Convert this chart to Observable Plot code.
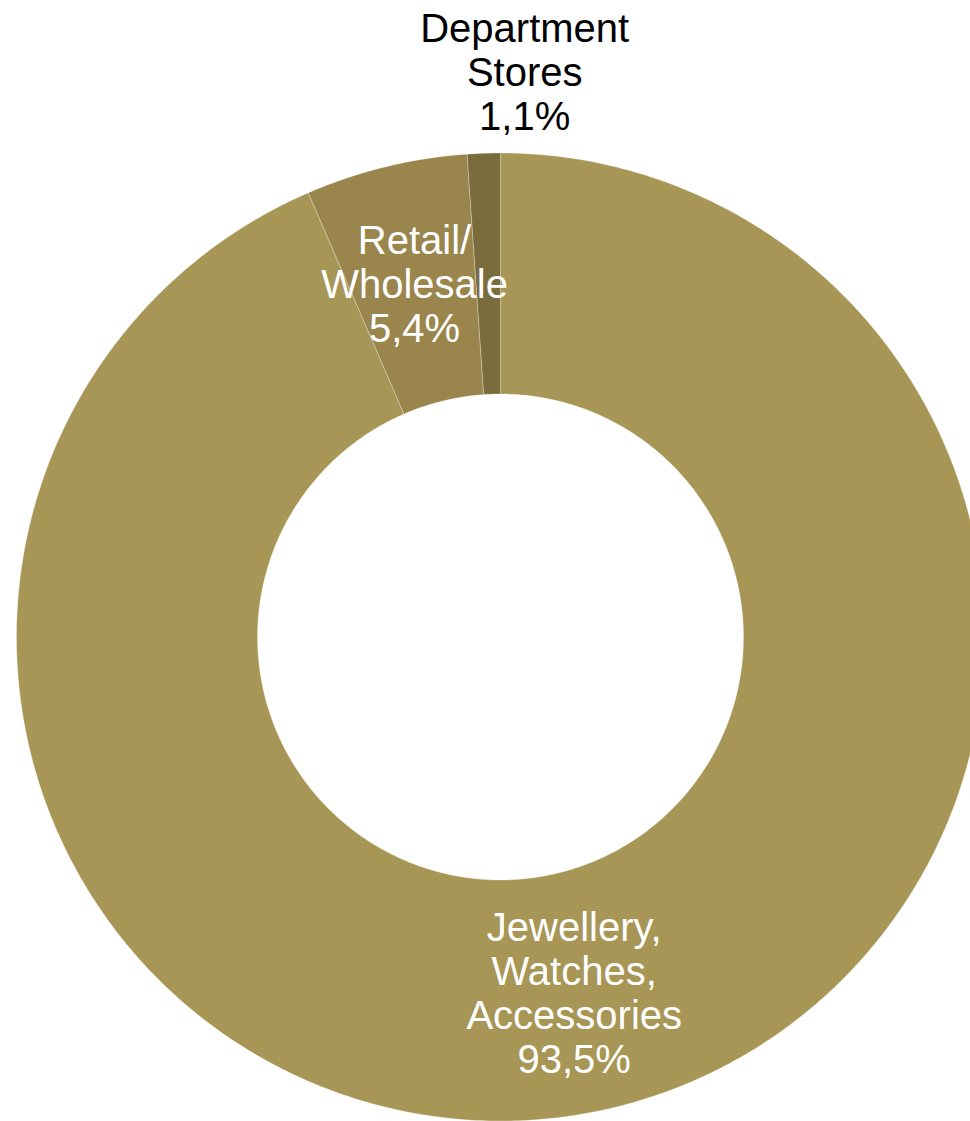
<!DOCTYPE html>
<html>
<head>
<meta charset="utf-8">
<script src="https://cdn.jsdelivr.net/npm/d3@7"></script>
<script src="https://cdn.jsdelivr.net/npm/@observablehq/plot@0.6"></script>
<style>
  html, body { margin: 0; padding: 0; background: #fff; }
  #chart { width: 970px; height: 1121px; }
</style>
</head>
<body>
<div id="chart"></div>
<script>
// ---- data ----
const categories = ["Jewellery, Watches, Accessories", "Retail/Wholesale", "Department Stores"];
const labelLines = [["Jewellery,", "Watches,", "Accessories"], ["Retail/", "Wholesale"], ["Department", "Stores"]];
const shares = [93.5, 5.4, 1.1];
const valueLabels = ["93,5%", "5,4%", "1,1%"];
const colors = ["#A89656", "#9A854D", "#7B6C3D"];

// ---- geometry (unit radius) ----
const W = 970, H = 1121;
const outerPx = 484, cx = 500, cy = 636.5;
const inner = 243 / 484;
const total = d3.sum(shares);

let acc = 0;
const slices = categories.map((name, i) => {
  const a0 = acc / total * 2 * Math.PI;
  acc += shares[i];
  const a1 = acc / total * 2 * Math.PI;
  return {name, a0, a1, i};
});

const pts = [];
for (const s of slices) {
  const n = Math.max(4, Math.ceil((s.a1 - s.a0) / (2 * Math.PI) * 720));
  const ring = [];
  for (let k = 0; k <= n; k++) {
    const a = s.a0 + (s.a1 - s.a0) * k / n;
    ring.push({name: s.name, x: Math.sin(a), y: Math.cos(a)});
  }
  for (let k = n; k >= 0; k--) {
    const a = s.a0 + (s.a1 - s.a0) * k / n;
    ring.push({name: s.name, x: inner * Math.sin(a), y: inner * Math.cos(a)});
  }
  ring.push({...ring[0]});
  pts.push(...ring);
}

const labels = slices.map(s => {
  const mid = (s.a0 + s.a1) / 2;
  const small = shares[s.i] < 2;
  const r = (1 + inner) / 2;
  return {
    text: labelLines[s.i].join("\n") + "\n" + valueLabels[s.i],
    x: small ? 0.05 : r * Math.sin(mid),
    y: small ? 1.168 : r * Math.cos(mid),
    color: small ? "#000000" : "#ffffff"
  };
});

const chart = Plot.plot({
  width: W,
  height: H,
  margin: 0,
  x: {domain: [-cx / outerPx, (W - cx) / outerPx], range: [0, W], axis: null},
  y: {domain: [(cy - H) / outerPx, cy / outerPx], range: [H, 0], axis: null},
  color: {domain: categories, range: colors},
  style: {fontFamily: "'Liberation Sans', Arial, sans-serif", background: "#fff"},
  marks: [
    Plot.line(pts, {x: "x", y: "y", z: "name", fill: "name", stroke: "#ffffff", strokeOpacity: 0.35, strokeWidth: 0.8, curve: "linear"}),
    Plot.text(labels, {x: "x", y: "y", text: "text", fill: "color", fontSize: 40, lineHeight: 1.1, textAnchor: "middle", lineAnchor: "middle"})
  ]
});
document.getElementById("chart").appendChild(chart);
</script>
</body>
</html>
